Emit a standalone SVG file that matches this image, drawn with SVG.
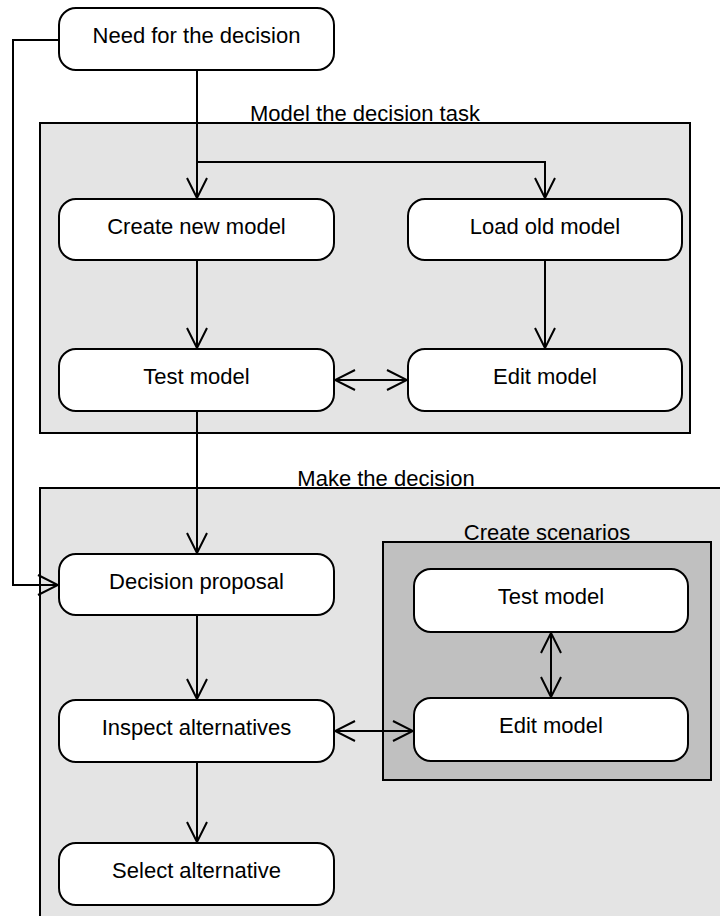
<svg xmlns="http://www.w3.org/2000/svg" width="720" height="916" viewBox="0 0 720 916">
<defs>
<style>
.node rect{fill:#fff;stroke:#000;stroke-width:2}
.lbl{font-family:"Liberation Sans",Arial,sans-serif;font-size:22px;fill:#000;text-anchor:middle}
.cont{stroke:#000;stroke-width:2}
.conn path{fill:none;stroke:#000;stroke-width:2}
</style>
<marker id="ah" markerUnits="userSpaceOnUse" markerWidth="24" markerHeight="24" viewBox="-22 -12 24 24" refX="0" refY="0" orient="auto-start-reverse">
<path d="M-20,-10 L0,0 L-20,10" fill="none" stroke="#000" stroke-width="2"/>
</marker>
</defs>
<rect width="720" height="916" fill="#fff"/>
<g id="model-task">
<rect class="cont" x="40" y="123" width="650" height="310" fill="#e4e4e4"/>
<text class="lbl" x="365" y="121">Model the decision task</text>
</g>
<g id="make-decision">
<rect class="cont" x="40" y="488" width="692" height="450" fill="#e4e4e4"/>
<text class="lbl" x="386" y="486">Make the decision</text>
</g>
<g id="create-scenarios">
<rect class="cont" x="383" y="542" width="328" height="238" fill="#c0c0c0"/>
<text class="lbl" x="547" y="540">Create scenarios</text>
</g>
<g class="conn" id="connectors">
<path d="M59,40 H13 V585 H58" marker-end="url(#ah)"/>
<path d="M197,70 V198" marker-end="url(#ah)"/>
<path d="M197,162 H545 V198" marker-end="url(#ah)"/>
<path d="M197,260 V348" marker-end="url(#ah)"/>
<path d="M545,260 V348" marker-end="url(#ah)"/>
<path d="M335,380 H407" marker-start="url(#ah)" marker-end="url(#ah)"/>
<path d="M197,411 V553" marker-end="url(#ah)"/>
<path d="M197,615 V699" marker-end="url(#ah)"/>
<path d="M197,762 V842" marker-end="url(#ah)"/>
<path d="M335,731 H413" marker-start="url(#ah)" marker-end="url(#ah)"/>
<path d="M551,633 V697" marker-start="url(#ah)" marker-end="url(#ah)"/>
</g>
<g id="need" class="node"><rect x="59" y="8" width="275" height="62" rx="17"/><text class="lbl" x="196.5" y="43">Need for the decision</text></g>
<g id="create-new" class="node"><rect x="59" y="199" width="275" height="61" rx="17"/><text class="lbl" x="196.5" y="234">Create new model</text></g>
<g id="load-old" class="node"><rect x="408" y="199" width="274" height="61" rx="17"/><text class="lbl" x="545" y="234">Load old model</text></g>
<g id="test-model-1" class="node"><rect x="59" y="349" width="275" height="62" rx="17"/><text class="lbl" x="196.5" y="384">Test model</text></g>
<g id="edit-model-1" class="node"><rect x="408" y="349" width="274" height="62" rx="17"/><text class="lbl" x="545" y="384">Edit model</text></g>
<g id="decision-proposal" class="node"><rect x="59" y="554" width="275" height="61" rx="17"/><text class="lbl" x="196.5" y="589">Decision proposal</text></g>
<g id="inspect" class="node"><rect x="59" y="700" width="275" height="62" rx="17"/><text class="lbl" x="196.5" y="735">Inspect alternatives</text></g>
<g id="select" class="node"><rect x="59" y="843" width="275" height="62" rx="17"/><text class="lbl" x="196.5" y="878">Select alternative</text></g>
<g id="test-model-2" class="node"><rect x="414" y="569" width="274" height="63" rx="17"/><text class="lbl" x="551" y="604">Test model</text></g>
<g id="edit-model-2" class="node"><rect x="414" y="698" width="274" height="63" rx="17"/><text class="lbl" x="551" y="733">Edit model</text></g>
</svg>
